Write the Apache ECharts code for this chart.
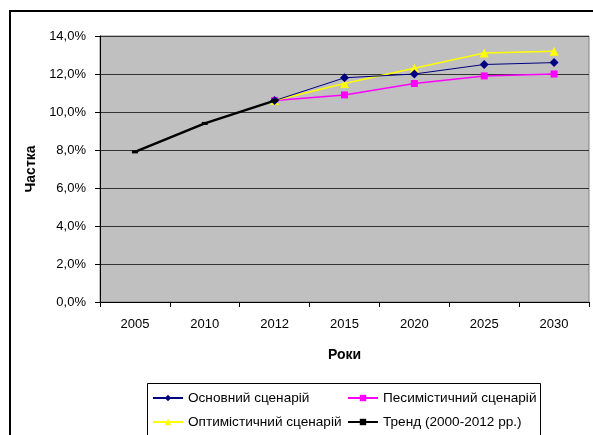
<!DOCTYPE html>
<html>
<head>
<meta charset="utf-8">
<script src="https://cdn.jsdelivr.net/npm/echarts@6/dist/echarts.min.js"></script>
<style>html,body{margin:0;padding:0;background:#fff}#c{width:593px;height:435px}</style>
</head>
<body>
<div id="c"></div>
<script>
var categories = ['2005','2010','2012','2015','2020','2025','2030'];
var baseScenario = [null, null, 10.6, 11.8, 12.0, 12.5, 12.6];
var pessScenario = [null, null, 10.6, 10.9, 11.5, 11.9, 12.0];
var optScenario = [null, null, 10.6, 11.5, 12.3, 13.1, 13.2];
var trend = [7.9, 9.4, 10.6, null, null, null, null];
var seriesNames = ['Основний сценарій', 'Песимістичний сценарій', 'Оптимістичний сценарій', 'Тренд (2000-2012 рр.)'];
var yTicks = {min: 0, max: 14, interval: 2};

var FONT = '"Liberation Sans", Arial, sans-serif';
function legendAt(name, left, top) {
  return {
    orient: 'horizontal', left: left, top: top, padding: 0,
    itemWidth: 30, itemHeight: 8, itemGap: 0,
    textStyle: {fontFamily: FONT, fontSize: 13.6, color: '#000'},
    data: [name]
  };
}
var chart = echarts.init(document.getElementById('c'), null, {renderer: 'canvas'});
chart.setOption({
  animation: false,
  backgroundColor: '#ffffff',
  textStyle: {fontFamily: FONT, color: '#000'},
  graphic: [{
    type: 'rect', silent: true, z: -10,
    shape: {x: 10, y: 11, width: 700, height: 700},
    style: {fill: 'none', stroke: '#000', lineWidth: 2}
  }, {
    type: 'rect', silent: true, z: -5,
    shape: {x: 147.5, y: 383.5, width: 393, height: 100},
    style: {fill: '#fff', stroke: '#000', lineWidth: 1}
  }],
  grid: {
    left: 100, top: 36, right: 4, bottom: 133,
    show: true, backgroundColor: '#c0c0c0', borderColor: '#808080', borderWidth: 1,
    containLabel: false
  },
  legend: [
    legendAt(seriesNames[0], 152, 391),
    legendAt(seriesNames[1], 347, 391),
    legendAt(seriesNames[2], 152, 415),
    legendAt(seriesNames[3], 347, 415)
  ],
  xAxis: {
    type: 'category', data: categories, boundaryGap: true,
    name: 'Роки', nameLocation: 'middle', nameGap: 46,
    nameTextStyle: {fontFamily: FONT, fontSize: 14, fontWeight: 'bold', color: '#000'},
    axisLine: {lineStyle: {color: '#000', width: 1}},
    axisTick: {show: true, length: 5, inside: false, lineStyle: {color: '#000'}},
    axisLabel: {fontFamily: FONT, fontSize: 13, color: '#000', margin: 16},
    splitLine: {show: false}
  },
  yAxis: {
    type: 'value', min: yTicks.min, max: yTicks.max, interval: yTicks.interval,
    name: 'Частка', nameLocation: 'middle', nameGap: 57, nameRotate: 90,
    nameTextStyle: {fontFamily: FONT, fontSize: 14, fontWeight: 'bold', color: '#000'},
    axisLine: {show: true, lineStyle: {color: '#000', width: 1}},
    axisTick: {show: true, length: 5, inside: false, lineStyle: {color: '#000'}},
    axisLabel: {fontFamily: FONT, fontSize: 13, color: '#000', margin: 14,
      formatter: function (v) { return v.toFixed(1).replace('.', ',') + '%'; }},
    splitLine: {show: true, lineStyle: {color: '#333', width: 1}}
  },
  series: [
    {name: seriesNames[0], type: 'line', data: baseScenario,
      symbol: 'diamond', symbolSize: 9, showAllSymbol: true,
      lineStyle: {color: '#000080', width: 1}, itemStyle: {color: '#000080'}, z: 3},
    {name: seriesNames[1], type: 'line', data: pessScenario,
      symbol: 'rect', symbolSize: 7, showAllSymbol: true,
      lineStyle: {color: '#ff00ff', width: 1.5}, itemStyle: {color: '#ff00ff'}, z: 2},
    {name: seriesNames[2], type: 'line', data: optScenario,
      symbol: 'triangle', symbolSize: 9, showAllSymbol: true,
      lineStyle: {color: '#ffff00', width: 1.5}, itemStyle: {color: '#ffff00'}, z: 2},
    {name: seriesNames[3], type: 'line', data: trend,
      symbol: 'rect', symbolSize: [6, 3], showAllSymbol: true,
      lineStyle: {color: '#000', width: 2.5}, itemStyle: {color: '#000'}, z: 4}
  ]
});
</script>
</body>
</html>
